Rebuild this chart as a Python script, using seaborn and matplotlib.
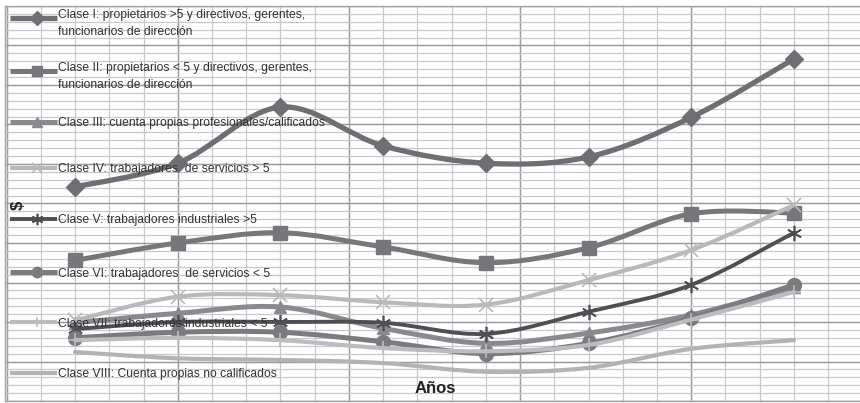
import numpy as np
import matplotlib
matplotlib.use("Agg")
import matplotlib.pyplot as plt
from matplotlib.path import Path
from matplotlib.patches import PathPatch
from matplotlib.lines import Line2D
from matplotlib.ticker import FixedLocator, NullFormatter
from matplotlib import font_manager as fm
import seaborn as sns

# ---------------- data (arbitrary $ units) ----------------
periods = [0, 1, 2, 3, 4, 5, 6, 7]   # year positions (no labels shown on the axis)

clase_1 = [27.1, 30.1, 37.2, 32.3, 30.1, 30.9, 35.9, 43.3]
clase_2 = [17.8, 20.0, 21.3, 19.5, 17.5, 19.4, 23.7, 23.8]
clase_3 = [9.9, 11.1, 11.9, 9.2, 7.3, 8.6, 10.9, 14.4]
clase_4 = [10.2, 13.2, 13.4, 12.5, 12.2, 15.3, 19.1, 24.8]
clase_5 = [9.1, 10.0, 10.0, 9.9, 8.5, 11.3, 14.7, 21.3]
clase_6 = [8.0, 8.7, 8.7, 7.5, 6.0, 7.3, 10.5, 14.7]
clase_7 = [7.7, 8.0, 7.7, 6.7, 6.3, 7.1, 10.3, 13.8]
clase_8 = [6.2, 5.4, 5.2, 4.8, 3.7, 4.2, 6.6, 7.7]

labels = [
    "Clase I: propietarios >5 y directivos, gerentes,\nfuncionarios de dirección",
    "Clase II: propietarios < 5 y directivos, gerentes,\nfuncionarios de dirección",
    "Clase III: cuenta propias profesionales/calificados",
    "Clase IV: trabajadores  de servicios > 5",
    "Clase V: trabajadores industriales >5",
    "Clase VI: trabajadores  de servicios < 5",
    "Clase VII: trabajadores industriales < 5",
    "Clase VIII: Cuenta propias no calificados",
]
series = [clase_1, clase_2, clase_3, clase_4, clase_5, clase_6, clase_7, clase_8]

# ---------------- styles ----------------
colors = ["#6f6f73", "#77777b", "#8a8a8e", "#b9b9bc", "#4f4f53", "#7b7b7f", "#bcbcbf", "#b3b3b6"]
markers = ["D", "s", "^", "x", (6, 2, 0), "o", "+", None]
msizes = [9, 10, 9, 10, 11, 10, 10, 0]
mew = [1, 1, 1, 1.2, 1.2, 1, 1.2, 1]
lws = [3.8, 3.6, 3.6, 3.0, 2.8, 3.6, 3.0, 3.0]

sns.set_style("white")
font_names = {f.name for f in fm.fontManager.ttflist}
if "Liberation Sans Narrow" in font_names:
    legend_family = ["Liberation Sans Narrow", "DejaVu Sans"]
else:
    legend_family = ["Liberation Sans", "DejaVu Sans"]
plt.rcParams["font.family"] = legend_family

fig = plt.figure(figsize=(8.6, 4.03), dpi=100)
W, H = 860, 403
ax = fig.add_axes([5 / W, 2 / H, 855 / W, 395 / H])

x_left = -0.682
x_right = (860 - 75) / 102.7
ax.set_xlim(x_left, x_right)
ax.set_ylim(0, 50)

# grid: minor every 1/3 period (x) and 1 unit (y), darker every 5
xminor = np.arange(-2 / 3, x_right + 0.01, 1 / 3)
xmajor = xminor[::5]
for xv in xminor:
    ax.axvline(xv, color="#c9c9cd", lw=0.9, zorder=0)
for xv in xmajor:
    ax.axvline(xv, color="#9c9ca0", lw=1.0, zorder=0)
for yv in np.arange(0, 51, 1):
    ax.axhline(yv, color="#c9c9cd", lw=0.9, zorder=0)
for yv in np.arange(0, 51, 5):
    ax.axhline(yv, color="#9c9ca0", lw=1.0, zorder=0)

ax.xaxis.set_major_locator(FixedLocator([]))
ax.yaxis.set_major_locator(FixedLocator([]))
ax.xaxis.set_major_formatter(NullFormatter())
ax.yaxis.set_major_formatter(NullFormatter())
for s in ax.spines.values():
    s.set_color("#a5a5a9")
    s.set_linewidth(1.0)
ax.spines["right"].set_visible(False)


def smooth_path(xs, ys, t=1 / 6):
    pts = np.column_stack([xs, ys]).astype(float)
    n = len(pts)
    verts = [pts[0]]
    codes = [Path.MOVETO]
    for i in range(n - 1):
        p0 = pts[i - 1] if i > 0 else pts[i]
        p1 = pts[i]
        p2 = pts[i + 1]
        p3 = pts[i + 2] if i + 2 < n else pts[i + 1]
        c1 = p1 + (p2 - p0) * t
        c2 = p2 - (p3 - p1) * t
        verts += [c1, c2, p2]
        codes += [Path.CURVE4] * 3
    return Path(verts, codes)


for k, vals in enumerate(series):
    z = 3 + k
    ax.add_patch(PathPatch(smooth_path(periods, vals), fill=False, edgecolor=colors[k],
                           lw=lws[k], capstyle="round", joinstyle="round", zorder=z))
    if markers[k] is not None:
        sns.lineplot(x=periods, y=vals, ax=ax, linestyle="", marker=markers[k],
                     markersize=msizes[k], color=colors[k], markeredgecolor=colors[k],
                     markeredgewidth=mew[k], zorder=z + 0.5, legend=False)

# ---------------- legend font size: fit the first line to the reference width ----------------
renderer = fig.canvas.get_renderer()
probe = fig.text(0, 0, labels[0].split("\n")[0], fontsize=10, family=legend_family)
pw = probe.get_window_extent(renderer).width
probe.remove()
fs = 10 * 246 / pw
fs_px = fs * 100 / 72

# ---------------- legend (Excel-style, evenly spaced inside the plot) ----------------
handle_y = [18, 71, 122, 168, 219, 272, 322, 373]
for k, lab in enumerate(labels):
    yf = 1 - (handle_y[k] - 6) / 395
    x0, x1, xm = (10 - 5) / 855, (57 - 5) / 855, (37 - 5) / 855
    ax.add_line(Line2D([x0, x1], [yf, yf], transform=ax.transAxes, color=colors[k],
                       lw=lws[k], zorder=20, solid_capstyle="butt"))
    if markers[k] is not None:
        ax.add_line(Line2D([xm], [yf], transform=ax.transAxes, color=colors[k], lw=0,
                           marker=markers[k], markersize=msizes[k] * 0.75,
                           markeredgecolor=colors[k], markeredgewidth=mew[k], zorder=21))
    if "\n" in lab:
        ax.text((58 - 5) / 855, yf + (0.72 * fs_px) / 395, lab, transform=ax.transAxes,
                ha="left", va="top", fontsize=fs, color="#333333",
                linespacing=19 / fs_px / 1.0, zorder=22)
    else:
        ax.text((58 - 5) / 855, yf, lab, transform=ax.transAxes, ha="left",
                va="center_baseline", fontsize=fs, color="#333333", zorder=22)

fig.text(18 / W, 1 - 205 / H, "$", rotation=90, ha="center", va="center",
         fontsize=12, fontweight="bold", color="#222222", family=["Liberation Sans", "DejaVu Sans"])
fig.text(435 / W, 1 - 393 / H, "Años", ha="center", va="baseline",
         fontsize=12, fontweight="bold", color="#222222", family=["Liberation Sans", "DejaVu Sans"])

fig.savefig("out.png", dpi=100)
